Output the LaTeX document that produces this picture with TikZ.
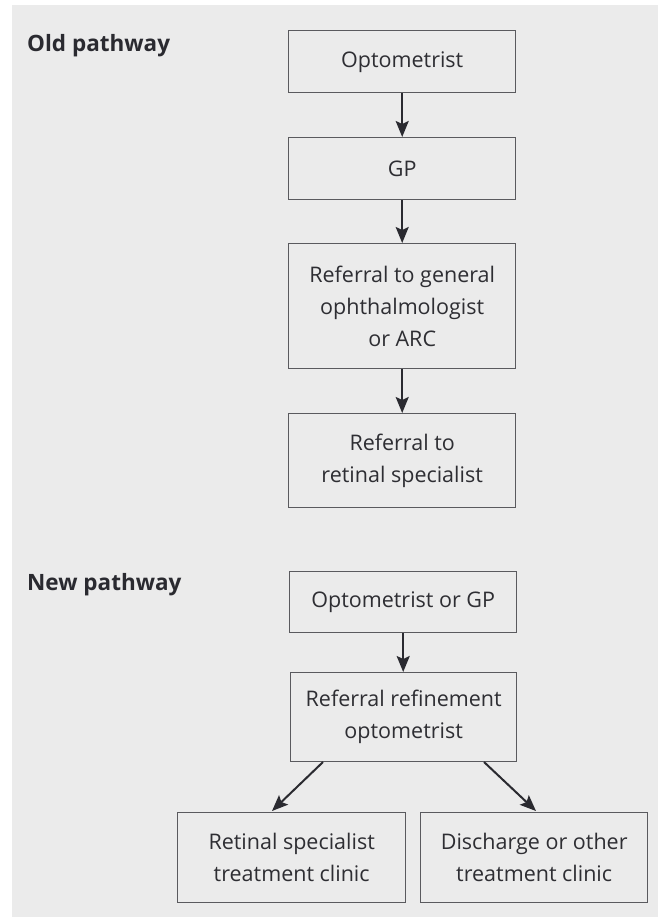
\documentclass[tikz,border=0pt]{standalone}
\usepackage{fontspec}
\setmainfont{Open Sans}
\usetikzlibrary{arrows.meta}
\definecolor{bg}{HTML}{EBEBEB}
\definecolor{boxline}{HTML}{5A5A5E}
\definecolor{txt}{HTML}{2E2E33}
\definecolor{arr}{HTML}{2A2A30}
\begin{document}
\begin{tikzpicture}[x=1pt,y=-1pt,
  stepbox/.style={draw=boxline,line width=1.4pt,fill=bg,rectangle,text=txt,align=center,
    font=\fontsize{21.5}{32}\selectfont,inner sep=0pt,anchor=north west},
  head/.style={font=\fontsize{22.5}{26}\selectfont\bfseries,text=arr,anchor=west,inner sep=0pt},
  flow/.style={draw=arr,line width=2pt,-{Stealth[length=16pt,width=13pt,inset=3pt]}}]
\useasboundingbox (0,0) rectangle (658,917);
\fill[white] (0,0) rectangle (658,917);
\fill[bg] (12,5) rectangle (658,917);
\node[head] (old) at (27,46) {Old pathway};
\node[head] (new) at (27,585) {New pathway};
\node[stepbox,minimum width=227pt,minimum height=62pt] (o1) at (288,30) {Optometrist};
\node[stepbox,minimum width=227pt,minimum height=62pt] (o2) at (288,137) {GP};
\node[stepbox,minimum width=227pt,minimum height=125pt] (o3) at (288,243) {Referral to general\\ophthalmologist\\or ARC};
\node[stepbox,minimum width=227pt,minimum height=94pt] (o4) at (288,413) {Referral to\\retinal specialist};
\node[stepbox,minimum width=227pt,minimum height=61pt] (n1) at (289,571) {Optometrist or GP};
\node[stepbox,minimum width=226pt,minimum height=89pt] (n2) at (290,672) {Referral refinement\\optometrist};
\node[stepbox,minimum width=228pt,minimum height=90pt] (n3) at (177,812) {Retinal specialist\\treatment clinic};
\node[stepbox,minimum width=227pt,minimum height=90pt] (n4) at (420,812) {Discharge or other\\treatment clinic};
\draw[flow] (o1.south) -- (o2.north);
\draw[flow] (o2.south) -- (o3.north);
\draw[flow] (o3.south) -- (o4.north);
\draw[flow] (n1.south) -- (n2.north -| n1.south);
\coordinate (n2l) at (323,762);
\coordinate (n2r) at (484,762);
\coordinate (n3t) at (272,811);
\coordinate (n4t) at (536,811);
\draw[flow] (n2l) -- (n3t);
\draw[flow] (n2r) -- (n4t);
\end{tikzpicture}
\end{document}
